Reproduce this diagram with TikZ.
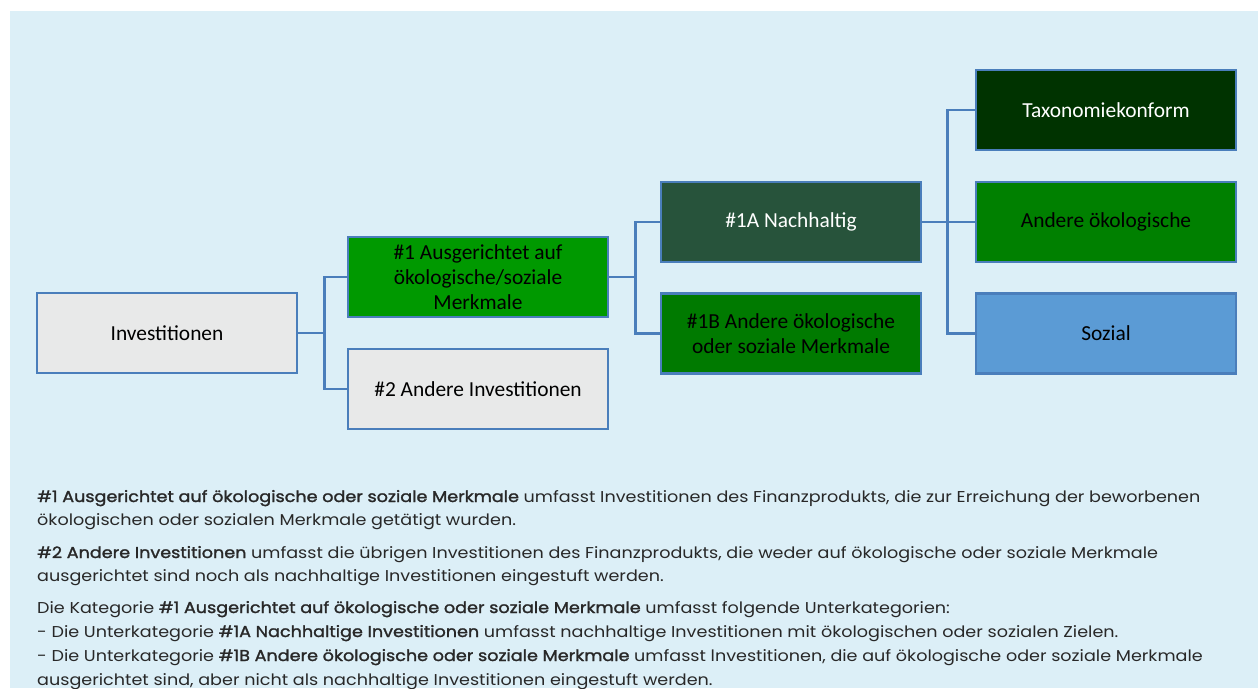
\documentclass[tikz,border=0pt]{standalone}
\usepackage{fontspec}
\setmainfont{Carlito}
\newfontfamily\notefont[FakeStretch=1.12, BoldFont={Poppins}, BoldFeatures={FakeBold=1.6}]{Poppins}
\definecolor{bgblue}{RGB}{220,239,247}
\definecolor{edgeblue}{RGB}{74,126,187}
\definecolor{boxgrey}{RGB}{232,233,233}
\definecolor{greenA}{RGB}{0,153,0}
\definecolor{greenB}{RGB}{39,83,59}
\definecolor{greenC}{RGB}{0,122,0}
\definecolor{greenD}{RGB}{0,51,0}
\definecolor{greenE}{RGB}{0,128,0}
\definecolor{sozblue}{RGB}{91,155,213}
\definecolor{notegrey}{RGB}{40,40,40}
\tikzset{
  catbox/.style={draw=edgeblue, line width=2.6pt, minimum width=260pt, minimum height=80pt,
    inner sep=0pt, align=center, font=\fontsize{21.4}{25}\selectfont, text=black},
  link/.style={draw=edgeblue, line width=2.6pt},
  noteline/.style={anchor=base west, inner sep=0pt, text=notegrey, font=\notefont\fontsize{15.7}{18}\selectfont}
}
\begin{document}
\begin{tikzpicture}[x=1pt,y=-1pt]
\useasboundingbox (0,0) rectangle (1258,688);
\fill[white] (0,0) rectangle (1258,688);
\fill[bgblue] (10,11) rectangle (1258,688);

\node[catbox, fill=boxgrey] (inv) at (167,333) {Investitionen};
\node[catbox, fill=greenA] (g1) at (478,277) {\#1 Ausgerichtet auf\\ökologische/soziale\\Merkmale};
\node[catbox, fill=boxgrey] (g2) at (478,389) {\#2 Andere Investitionen};
\node[catbox, fill=greenB, text=white] (a1) at (791,222) {\#1A Nachhaltig};
\node[catbox, fill=greenC] (b1) at (791,333.5) {\#1B Andere ökologische\\oder soziale Merkmale};
\node[catbox, fill=greenD, text=white] (tax) at (1106,110) {Taxonomiekonform};
\node[catbox, fill=greenE] (oth) at (1106,222) {Andere ökologische};
\node[catbox, fill=sozblue] (soz) at (1106,333.5) {Sozial};

\draw[link] (inv.east) -- ++(26,0) coordinate (j1);
\draw[link] (g1.west) -| (j1) |- (g2.west);
\draw[link] (g1.east) -- ++(26,0) coordinate (j2);
\draw[link] (a1.west) -| (j2) |- (b1.west);
\draw[link] (a1.east) -- ++(25,0) coordinate (j3);
\draw[link] (tax.west) -| (j3) |- (soz.west);
\draw[link] (j3) -- (oth.west);

\node[noteline] (t1) at (37,502) {\textbf{\#1 Ausgerichtet auf ökologische oder soziale Merkmale} umfasst Investitionen des Finanzprodukts, die zur Erreichung der beworbenen};
\node[noteline] (t2) at (37,525) {ökologischen oder sozialen Merkmale getätigt wurden.};
\node[noteline] (t3) at (37,558) {\textbf{\#2 Andere Investitionen} umfasst die übrigen Investitionen des Finanzprodukts, die weder auf ökologische oder soziale Merkmale};
\node[noteline] (t4) at (37,581) {ausgerichtet sind noch als nachhaltige Investitionen eingestuft werden.};
\node[noteline] (t5) at (37,613) {Die Kategorie \textbf{\#1 Ausgerichtet auf ökologische oder soziale Merkmale} umfasst folgende Unterkategorien:};
\node[noteline] (t6) at (37,637) {- Die Unterkategorie \textbf{\#1A Nachhaltige Investitionen} umfasst nachhaltige Investitionen mit ökologischen oder sozialen Zielen.};
\node[noteline] (t7) at (37,661) {- Die Unterkategorie \textbf{\#1B Andere ökologische oder soziale Merkmale} umfasst lnvestitionen, die auf ökologische oder soziale Merkmale};
\node[noteline] (t8) at (37,685) {ausgerichtet sind, aber nicht als nachhaltige Investitionen eingestuft werden.};
\end{tikzpicture}
\end{document}
